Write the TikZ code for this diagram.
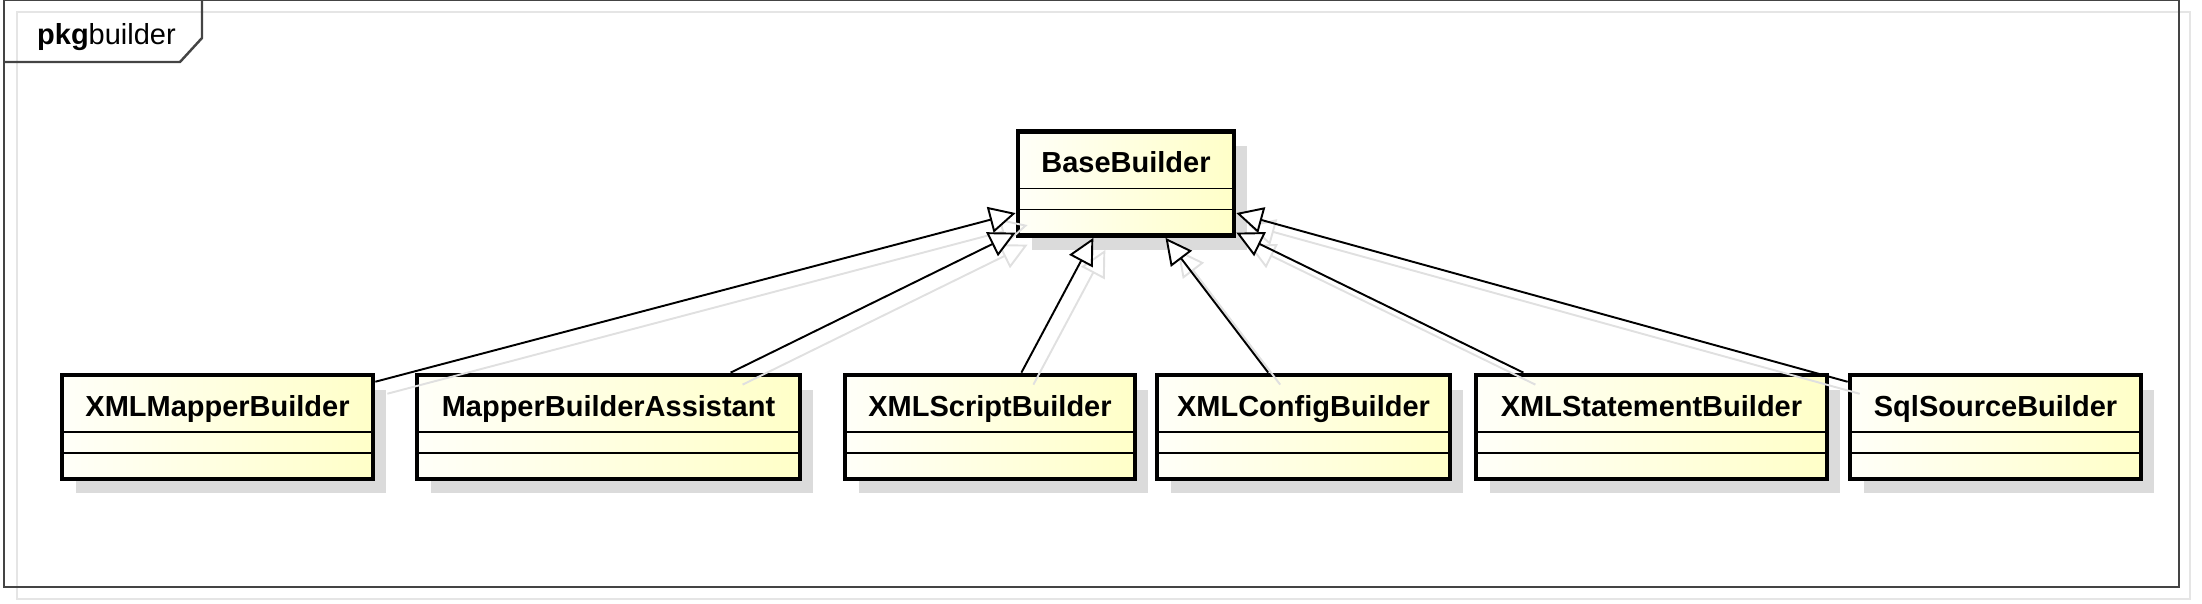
\documentclass[tikz,border=0pt]{standalone}
\usepackage{fontspec}
\setmainfont{Liberation Sans}
\usetikzlibrary{arrows.meta, shadows}

\definecolor{ClassFill}{HTML}{FFFFC8}
\definecolor{FrameLine}{HTML}{444444}

\tikzset{
  classbox/.style={draw, line width=2.7pt, left color=ClassFill!12, right color=ClassFill,
    inner xsep=0pt, inner ysep=0pt, text height=0.82cm, text depth=1.26cm,
    font=\fontsize{16.5}{19}\selectfont\bfseries,
    drop shadow={shadow xshift=0.27cm, shadow yshift=-0.29cm, fill=black!14, opacity=1},
    path picture={
      \draw[line width=0.85pt] ([yshift=-1.14cm]path picture bounding box.north west)
        -- ([yshift=-1.14cm]path picture bounding box.north east);
      \draw[line width=0.85pt] ([yshift=-1.56cm]path picture bounding box.north west)
        -- ([yshift=-1.56cm]path picture bounding box.north east);
    }},
  generalization/.style={line width=1.1pt,
    -{Triangle[open, fill=white, length=15pt, width=15pt]}},
  genshadow/.style={draw=black!12, line width=1.1pt,
    -{Triangle[open, length=15pt, width=15pt]},
    transform canvas={xshift=0.24cm, yshift=-0.24cm}},
}

\begin{document}
\begin{tikzpicture}[x=0.02cm, y=-0.02cm]
  \useasboundingbox (0,0) rectangle (2202,604);
  % package frame with its tab
  \draw[black!10, line width=1pt] (17,12) rectangle (2190,599);
  \draw[FrameLine, line width=1.4pt] (4,0) rectangle (2179,587);
  \draw[FrameLine, line width=1.4pt] (4,62) -- (180,62) -- (202,38) -- (202,0);
  \node[anchor=base west, font=\fontsize{16.5}{19}\selectfont] (pkglabel) at (31,45) {\textbf{pkg}builder};

  % classes
  \node[classbox, minimum width=4.32cm] (base) at (1126,183.5) {BaseBuilder};
  \node[classbox, minimum width=6.22cm] (mapper) at (217.5,427) {XMLMapperBuilder};
  \node[classbox, minimum width=7.66cm] (assistant) at (608.5,427) {MapperBuilderAssistant};
  \node[classbox, minimum width=5.80cm] (script) at (990,427) {XMLScriptBuilder};
  \node[classbox, minimum width=5.86cm] (config) at (1303.5,427) {XMLConfigBuilder};
  \node[classbox, minimum width=7.02cm] (statement) at (1651.5,427) {XMLStatementBuilder};
  \node[classbox, minimum width=5.82cm] (sqlsource) at (1995.5,427) {SqlSourceBuilder};

  % shadows of the generalizations
  \draw[genshadow] (mapper.16) -- (base.195);
  \draw[genshadow] (assistant.24) -- (base.204);
  \draw[genshadow] (script.60) -- (base.239);
  \draw[genshadow] (config.123) -- (base.306);
  \draw[genshadow] (statement.157) -- (base.336);
  \draw[genshadow] (sqlsource.163) -- (base.345);

  % generalizations
  \draw[generalization] (mapper.16) -- (base.195);
  \draw[generalization] (assistant.24) -- (base.204);
  \draw[generalization] (script.60) -- (base.239);
  \draw[generalization] (config.123) -- (base.306);
  \draw[generalization] (statement.157) -- (base.336);
  \draw[generalization] (sqlsource.163) -- (base.345);
\end{tikzpicture}
\end{document}
